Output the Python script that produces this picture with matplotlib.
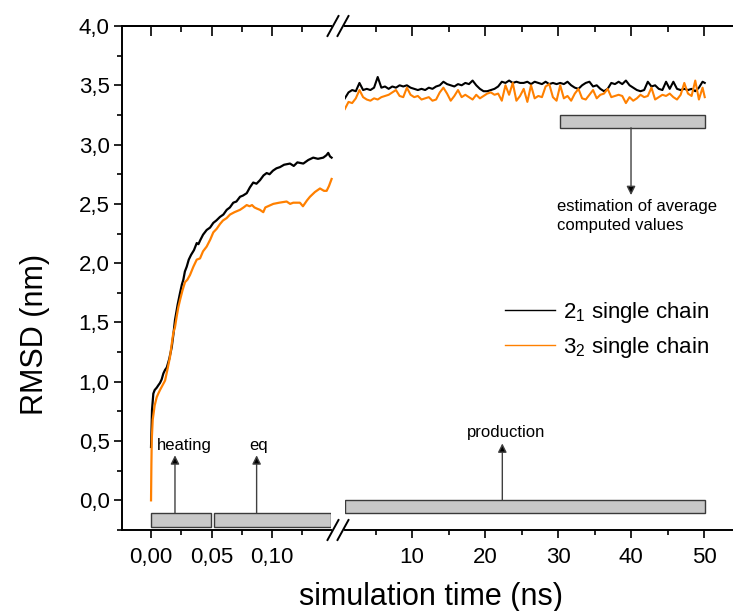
import matplotlib
matplotlib.use("Agg")
import matplotlib.pyplot as plt
from matplotlib.patches import Rectangle
from matplotlib.lines import Line2D

plt.rcParams.update({
    "font.family": ["Liberation Sans", "DejaVu Sans"],
    "font.size": 16,
    "mathtext.fontset": "custom",
    "mathtext.rm": "Liberation Sans",
})

# ---- data ----
# early stage (heating + equilibration), time in ns
t_black_early = [0.0000, 0.0004, 0.0008, 0.0019, 0.0030, 0.0047, 0.0060, 0.0074, 0.0088, 0.0102,
                 0.0116, 0.0130, 0.0150, 0.0171, 0.0185, 0.0198, 0.0220, 0.0240, 0.0255, 0.0267,
                 0.0280, 0.0295, 0.0312, 0.0331, 0.0355, 0.0378, 0.0392, 0.0405, 0.0430, 0.0460,
                 0.0488, 0.0515, 0.0540, 0.0570, 0.0598, 0.0626, 0.0652, 0.0680, 0.0706, 0.0736,
                 0.0760, 0.0791, 0.0818, 0.0845, 0.0872, 0.0901, 0.0930, 0.0956, 0.0980, 0.1008,
                 0.1037, 0.1066, 0.1100, 0.1149, 0.1180, 0.1210, 0.1259, 0.1300, 0.1341, 0.1380,
                 0.1424, 0.1450, 0.1465, 0.1480, 0.1493]
rmsd_black_early = [0.45, 0.59, 0.76, 0.90, 0.93, 0.95, 0.97, 0.99, 1.02, 1.07,
                    1.10, 1.12, 1.19, 1.29, 1.40, 1.52, 1.65, 1.75, 1.82, 1.86,
                    1.93, 1.97, 2.03, 2.07, 2.11, 2.17, 2.16, 2.19, 2.24, 2.28,
                    2.30, 2.34, 2.36, 2.39, 2.41, 2.45, 2.47, 2.51, 2.52, 2.56,
                    2.57, 2.59, 2.64, 2.68, 2.67, 2.70, 2.74, 2.76, 2.75, 2.78,
                    2.80, 2.81, 2.83, 2.84, 2.82, 2.85, 2.84, 2.87, 2.89, 2.88,
                    2.89, 2.91, 2.93, 2.90, 2.89]

t_orange_early = [0.0000, 0.0003, 0.0006, 0.0014, 0.0030, 0.0047, 0.0060, 0.0074, 0.0095, 0.0116,
                  0.0135, 0.0157, 0.0170, 0.0184, 0.0198, 0.0212, 0.0226, 0.0240, 0.0260, 0.0281,
                  0.0300, 0.0322, 0.0350, 0.0378, 0.0405, 0.0430, 0.0460, 0.0490, 0.0515, 0.0543,
                  0.0570, 0.0595, 0.0625, 0.0653, 0.0690, 0.0736, 0.0765, 0.0791, 0.0815, 0.0835,
                  0.0855, 0.0876, 0.0900, 0.0928, 0.0945, 0.0967, 0.1011, 0.1060, 0.1121, 0.1150,
                  0.1176, 0.1231, 0.1256, 0.1290, 0.1314, 0.1355, 0.1397, 0.1430, 0.1452, 0.1471,
                  0.1493]
rmsd_orange_early = [0.00, 0.30, 0.51, 0.68, 0.80, 0.87, 0.90, 0.93, 0.97, 1.01,
                     1.10, 1.21, 1.31, 1.41, 1.46, 1.55, 1.63, 1.69, 1.77, 1.84,
                     1.86, 1.90, 1.97, 2.03, 2.04, 2.10, 2.14, 2.20, 2.26, 2.29,
                     2.33, 2.36, 2.38, 2.41, 2.43, 2.45, 2.47, 2.49, 2.48, 2.49,
                     2.47, 2.46, 2.45, 2.43, 2.47, 2.48, 2.50, 2.51, 2.52, 2.50,
                     2.51, 2.51, 2.48, 2.53, 2.56, 2.60, 2.63, 2.61, 2.61, 2.65,
                     2.71]

# production run, time in ns
t_prod = [0.8, 1.3, 1.8, 2.3, 2.8, 3.3, 3.8, 4.3, 4.8, 5.3,
          5.8, 6.3, 6.8, 7.3, 7.8, 8.3, 8.8, 9.3, 9.8, 10.3,
          10.8, 11.3, 11.8, 12.3, 12.8, 13.3, 13.8, 14.3, 14.8, 15.3,
          15.8, 16.3, 16.8, 17.3, 17.8, 18.3, 18.8, 19.3, 19.8, 20.3,
          20.8, 21.3, 21.8, 22.3, 22.8, 23.3, 23.8, 24.3, 24.8, 25.3,
          25.8, 26.3, 26.8, 27.3, 27.8, 28.3, 28.8, 29.3, 29.8, 30.3,
          30.8, 31.3, 31.8, 32.3, 32.8, 33.3, 33.8, 34.3, 34.8, 35.3,
          35.8, 36.3, 36.8, 37.3, 37.8, 38.3, 38.8, 39.3, 39.8, 40.3,
          40.8, 41.3, 41.8, 42.3, 42.8, 43.3, 43.8, 44.3, 44.8, 45.3,
          45.8, 46.3, 46.8, 47.3, 47.8, 48.3, 48.8, 49.3, 49.8, 50.1]
rmsd_black_prod = [3.39, 3.44, 3.46, 3.45, 3.52, 3.46, 3.47, 3.46, 3.48, 3.57,
                   3.48, 3.49, 3.47, 3.49, 3.48, 3.50, 3.49, 3.50, 3.48, 3.47,
                   3.46, 3.47, 3.46, 3.48, 3.47, 3.49, 3.50, 3.53, 3.51, 3.50,
                   3.49, 3.51, 3.50, 3.52, 3.51, 3.54, 3.50, 3.47, 3.45, 3.45,
                   3.46, 3.47, 3.49, 3.53, 3.52, 3.54, 3.52, 3.53, 3.52, 3.52,
                   3.53, 3.51, 3.53, 3.52, 3.51, 3.53, 3.51, 3.52, 3.51, 3.52,
                   3.51, 3.53, 3.50, 3.48, 3.47, 3.50, 3.52, 3.53, 3.49, 3.50,
                   3.47, 3.45, 3.47, 3.52, 3.51, 3.53, 3.51, 3.54, 3.50, 3.48,
                   3.46, 3.45, 3.46, 3.53, 3.49, 3.50, 3.47, 3.46, 3.53, 3.47,
                   3.53, 3.47, 3.46, 3.47, 3.46, 3.47, 3.45, 3.48, 3.53, 3.52]
rmsd_orange_prod = [3.30, 3.36, 3.35, 3.39, 3.46, 3.40, 3.38, 3.37, 3.39, 3.38,
                    3.40, 3.41, 3.42, 3.44, 3.46, 3.41, 3.40, 3.48, 3.42, 3.40,
                    3.41, 3.38, 3.39, 3.40, 3.37, 3.38, 3.44, 3.48, 3.43, 3.37,
                    3.41, 3.46, 3.40, 3.42, 3.40, 3.38, 3.42, 3.39, 3.41, 3.43,
                    3.44, 3.42, 3.43, 3.37, 3.50, 3.42, 3.52, 3.37, 3.41, 3.47,
                    3.36, 3.50, 3.39, 3.41, 3.40, 3.49, 3.51, 3.40, 3.37, 3.50,
                    3.39, 3.41, 3.37, 3.43, 3.47, 3.39, 3.38, 3.42, 3.46, 3.39,
                    3.42, 3.43, 3.47, 3.40, 3.41, 3.42, 3.41, 3.35, 3.40, 3.37,
                    3.39, 3.42, 3.40, 3.41, 3.48, 3.38, 3.40, 3.42, 3.41, 3.43,
                    3.40, 3.38, 3.42, 3.52, 3.43, 3.41, 3.54, 3.38, 3.48, 3.40]

series_labels = [r"2$_\mathregular{1}$ single chain", r"3$_\mathregular{2}$ single chain"]
series_colors = ["#000000", "#ff8000"]

x_early_ticks = [0.0, 0.05, 0.10]
x_early_labels = ["0,00", "0,05", "0,10"]
x_early_minor = [0.025, 0.075, 0.125]
x_prod_ticks = [10, 20, 30, 40, 50]
x_prod_labels = ["10", "20", "30", "40", "50"]
x_prod_minor = [5, 15, 25, 35, 45]
y_ticks = [0.0, 0.5, 1.0, 1.5, 2.0, 2.5, 3.0, 3.5, 4.0]
y_labels = ["0,0", "0,5", "1,0", "1,5", "2,0", "2,5", "3,0", "3,5", "4,0"]
y_minor = [-0.25, 0.25, 0.75, 1.25, 1.75, 2.25, 2.75, 3.25, 3.75]

# ---- figure ----
W, H = 733, 611
fig = plt.figure(figsize=(W / 100, H / 100), dpi=100)

ax_bot, ax_h = (H - 530) / H, 504 / H
ax1 = fig.add_axes([122 / W, ax_bot, (331 - 122) / W, ax_h])
ax2 = fig.add_axes([345 / W, ax_bot, (W - 345) / W, ax_h])

ax1.set_xlim(-0.024, 0.1488)
ax2.set_xlim(0.82, 53.97)
for ax in (ax1, ax2):
    ax.set_ylim(-0.25, 4.0)
    for s in ax.spines.values():
        s.set_linewidth(1.4)
    ax.spines["right"].set_visible(False)
    ax.tick_params(axis="x", which="major", direction="out", length=6, width=1.2,
                   labelsize=16, pad=6)
    ax.tick_params(axis="x", which="minor", direction="out", length=3.5, width=1.2)

ax2.spines["left"].set_visible(False)
ax2.tick_params(axis="y", which="both", left=False, labelleft=False)

ax1.set_xticks(x_early_ticks, x_early_labels)
ax1.set_xticks(x_early_minor, minor=True)
ax2.set_xticks(x_prod_ticks, x_prod_labels)
ax2.set_xticks(x_prod_minor, minor=True)
ax1.set_yticks(y_ticks, y_labels)
ax1.set_yticks(y_minor, minor=True)
ax1.tick_params(axis="y", which="major", direction="out", length=6, width=1.2,
                labelsize=16, pad=3)
ax1.tick_params(axis="y", which="minor", direction="out", length=3.5, width=1.2)

# mirrored top ticks pointing inward
for ax, maj, mnr in ((ax1, x_early_ticks, x_early_minor), (ax2, x_prod_ticks, x_prod_minor)):
    top = ax.secondary_xaxis("top")
    top.set_xticks(maj, [""] * len(maj))
    top.set_xticks(mnr, minor=True)
    top.tick_params(which="major", direction="in", length=7, width=1.2)
    top.tick_params(which="minor", direction="in", length=4, width=1.2)
    top.spines["top"].set_linewidth(1.4)

# traces
ax1.plot(t_black_early, rmsd_black_early, color=series_colors[0], lw=1.6, clip_on=False)
ax1.plot(t_orange_early, rmsd_orange_early, color=series_colors[1], lw=1.6, clip_on=False)
ax2.plot(t_prod, rmsd_black_prod, color=series_colors[0], lw=1.5)
ax2.plot(t_prod, rmsd_orange_prod, color=series_colors[1], lw=1.5)

# phase boxes
box_kw = dict(facecolor="#c8c8c8", edgecolor="#3a3a3a", lw=1.0, zorder=3)
ax1.add_patch(Rectangle((0.0, -0.228), 0.0494, 0.118, **box_kw))
ax1.add_patch(Rectangle((0.052, -0.228), 0.0965, 0.118, **box_kw))
ax2.add_patch(Rectangle((0.82, -0.107), 49.3, 0.107, **box_kw))
ax2.add_patch(Rectangle((30.27, 3.142), 19.83, 0.107, **box_kw))

arrow_kw = dict(arrowstyle="-|>", color="#404040", lw=1.0, mutation_scale=13,
                shrinkA=0, shrinkB=0)
ax1.annotate("", xy=(0.0198, 0.38), xytext=(0.0198, -0.11),
             arrowprops=dict(arrow_kw, fc="black"))
ax1.annotate("", xy=(0.0873, 0.38), xytext=(0.0873, -0.11),
             arrowprops=dict(arrow_kw, fc="black"))
ax2.annotate("", xy=(22.37, 0.48), xytext=(22.37, 0.0),
             arrowprops=dict(arrow_kw, fc="black"))
ax2.annotate("", xy=(40.0, 2.574), xytext=(40.0, 3.142),
             arrowprops=dict(arrow_kw, fc="black"))

ax1.text(0.0277, 0.464, "heating", ha="center", va="center", fontsize=12)
ax1.text(0.0888, 0.464, "eq", ha="center", va="center", fontsize=12)
ax2.text(22.88, 0.574, "production", ha="center", va="center", fontsize=12)
ax2.text(29.86, 2.40, "estimation of average\ncomputed values", ha="left",
         va="center", fontsize=12, linespacing=1.35)

# axis break marks
for xc in (333, 343):
    for yc in (26, 530):
        fig.add_artist(Line2D([(xc - 5.5) / W, (xc + 5.5) / W],
                              [(H - yc - 10) / H, (H - yc + 10) / H],
                              color="black", lw=1.4, transform=fig.transFigure))

# legend
handles = [Line2D([], [], color=c, lw=1.0) for c in series_colors]
fig.legend(handles, series_labels, loc="center left",
           bbox_to_anchor=(505 / W, 1 - 330 / H), frameon=False, fontsize=16,
           handlelength=2.25, handletextpad=0.35, labelspacing=0.45,
           borderpad=0, borderaxespad=0)

fig.text(35 / W, 1 - 334 / H, "RMSD (nm)", rotation=90, ha="center", va="center",
         fontsize=22)
fig.text(431 / W, 1 - 605 / H, "simulation time (ns)", ha="center", va="baseline",
         fontsize=22)

fig.savefig("out.png", dpi=100)
